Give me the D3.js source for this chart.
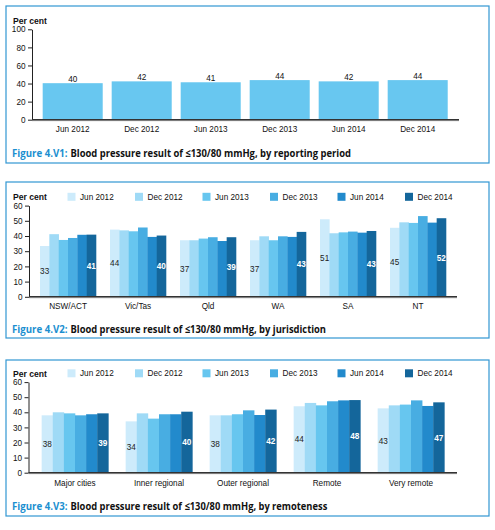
<!DOCTYPE html>
<html><head><meta charset="utf-8">
<script src="https://cdn.jsdelivr.net/npm/d3@7"></script>
<style>body{margin:0;background:#fff}svg{display:block}</style>
</head><body>
<script>
// ---------- data ----------
const periods = ["Jun 2012","Dec 2012","Jun 2013","Dec 2013","Jun 2014","Dec 2014"];
const overallValues = [40.4, 42.4, 41.4, 43.8, 42.4, 43.8];

const jurisdictions = ["NSW/ACT","Vic/Tas","Qld","WA","SA","NT"];
const jurJun2012 = [33.4, 44.2, 37.2, 37.2, 51.0, 45.4];
const jurDec2012 = [41.2, 43.7, 37.2, 39.8, 41.8, 49.0];
const jurJun2013 = [37.4, 43.1, 38.3, 37.2, 42.4, 48.6];
const jurDec2013 = [38.7, 45.6, 39.2, 39.8, 42.9, 53.1];
const jurJun2014 = [40.8, 39.4, 36.7, 39.4, 42.2, 48.8];
const jurDec2014 = [40.9, 40.3, 39.2, 42.7, 43.3, 51.7];

const remoteness = ["Major cities","Inner regional","Outer regional","Remote","Very remote"];
const remJun2012 = [38.0, 34.0, 38.0, 44.0, 42.6];
const remDec2012 = [40.0, 39.3, 38.0, 46.2, 44.6];
const remJun2013 = [39.3, 35.8, 38.7, 44.6, 45.1];
const remDec2013 = [38.0, 38.7, 41.3, 47.3, 47.9];
const remJun2014 = [38.7, 38.7, 38.2, 47.9, 44.2];
const remDec2014 = [39.3, 40.4, 41.8, 48.1, 46.6];

const yTicks1 = [0,20,40,60,80,100];
const yTicks23 = [0,10,20,30,40,50,60];

const seriesColors = ["#cdebfb","#9fdaf6","#67c6ef","#48ade2","#228acc","#14669b"];
const singleColor = "#68c7f0";
const frameColor = "#3197d3";
const figBlue = "#1b8fd0";
const FONT = "'Liberation Sans', Arial, sans-serif";
const CAPFONT = "'Open Sans', 'DejaVu Sans', sans-serif";

const svg = d3.select("body").append("svg").attr("width",495).attr("height",530);
svg.append("rect").attr("width",495).attr("height",530).attr("fill","#fff");

function frame(y0, y1){
  svg.append("rect").attr("x",6).attr("y",y0).attr("width",483).attr("height",y1-y0)
    .attr("fill","none").attr("stroke",frameColor).attr("stroke-width",1.2);
}
function fitText(sel, width){
  const w = sel.node().getComputedTextLength();
  if (Math.abs(w-width) > 1) sel.attr("textLength",width).attr("lengthAdjust","spacingAndGlyphs");
}
function caption(y, fig, rest, endX){
  const a = svg.append("text").attr("x",12).attr("y",y)
    .attr("font-family",CAPFONT).attr("font-size",10.8).attr("font-weight",700)
    .attr("fill",figBlue).text(fig);
  fitText(a, 55.5);
  const b = svg.append("text").attr("x",70.5).attr("y",y)
    .attr("font-family",CAPFONT).attr("font-size",10.8).attr("font-weight",700)
    .attr("fill","#111").text(rest);
  fitText(b, endX-70.5);
}
function perCent(y){
  svg.append("text").attr("x",13).attr("y",y).attr("font-family",FONT)
    .attr("font-size",8.6).attr("font-weight",700).attr("fill","#111").text("Per cent");
}
function yAxis(yScale, x, ticks){
  const g = svg.append("g").attr("transform",`translate(${x},0)`)
    .call(d3.axisLeft(yScale).tickValues(ticks).tickSize(4).tickSizeOuter(0).tickPadding(2.5));
  g.select(".domain").attr("stroke","#222").attr("stroke-width",1);
  g.selectAll(".tick line").attr("stroke","#222");
  g.selectAll(".tick text").attr("font-family",FONT).attr("font-size",8.2).attr("fill","#111");
}
function xAxis(xScale, y0, xStart, xEnd, pad){
  svg.append("line").attr("x1",xStart).attr("x2",xEnd).attr("y1",y0+1).attr("y2",y0+1)
    .attr("stroke","#bbb").attr("stroke-width",1);
  svg.append("line").attr("x1",xStart).attr("x2",xEnd).attr("y1",y0).attr("y2",y0)
    .attr("stroke","#333").attr("stroke-width",1.4);
  const g = svg.append("g").attr("transform",`translate(0,${y0})`)
    .call(d3.axisBottom(xScale).tickSize(0).tickPadding(pad));
  g.select(".domain").remove();
  g.selectAll(".tick text").attr("font-family",FONT).attr("font-size",8.2).attr("fill","#111");
}
function legend(yc){
  periods.forEach((p,i)=>{
    const x = 67.5 + i*67.5;
    svg.append("rect").attr("x",x).attr("y",yc-4).attr("width",8).attr("height",8).attr("fill",seriesColors[i]);
    svg.append("text").attr("x",x+12.5).attr("y",yc+3).attr("font-family",FONT)
      .attr("font-size",8.2).attr("fill","#111").text(p);
  });
}

// ---------- Figure 4.V1 ----------
frame(6,163);
perCent(24);
{
  const y = d3.scaleLinear().domain([0,100]).range([119.7,29.3]);
  const x = d3.scaleBand().domain(periods).range([38.2,452.2]).paddingInner(0.13).paddingOuter(0.065);
  yAxis(y, 32, yTicks1);
  svg.append("g").selectAll("rect").data(overallValues).join("rect")
    .attr("x",(d,i)=>x(periods[i])).attr("width",x.bandwidth())
    .attr("y",d=>y(d)).attr("height",d=>y(0)-y(d)).attr("fill",singleColor);
  svg.append("g").selectAll("text").data(overallValues).join("text")
    .attr("x",(d,i)=>x(periods[i])+x.bandwidth()/2).attr("y",d=>y(d)-1.2)
    .attr("text-anchor","middle").attr("font-family",FONT).attr("font-size",8.2).attr("fill","#111")
    .text(d=>Math.round(d));
  xAxis(x, 119.7, 32, 459, 6);
}
caption(157, "Figure 4.V1:", "Blood pressure result of ≤130/80 mmHg, by reporting period", 351);

// ---------- grouped chart helper ----------
function grouped(cats, series, y0, y60, axisX, padIn, padOut, labPad){
  const y = d3.scaleLinear().domain([0,60]).range([y0,y60]);
  const x0 = d3.scaleBand().domain(cats).range([33,453]).paddingInner(padIn).paddingOuter(padOut);
  const x1 = d3.scaleBand().domain(periods).range([0,x0.bandwidth()]).padding(0);
  yAxis(y, axisX, yTicks23);
  series.forEach((vals,si)=>{
    svg.append("g").selectAll("rect").data(vals).join("rect")
      .attr("x",(d,i)=>x0(cats[i])+x1(periods[si])).attr("width",x1.bandwidth()+0.3)
      .attr("y",d=>y(d)).attr("height",d=>y(0)-y(d)).attr("fill",seriesColors[si]);
  });
  [[0,"#222",400],[5,"#fff",700]].forEach(([si,col,wt])=>{
    svg.append("g").selectAll("text").data(series[si]).join("text")
      .attr("x",(d,i)=>x0(cats[i])+x1(periods[si])+x1.bandwidth()/2)
      .attr("y",d=>y(d/2)+3).attr("text-anchor","middle")
      .attr("font-family",FONT).attr("font-size",8.2).attr("font-weight",wt).attr("fill",col)
      .text(d=>Math.round(d));
  });
  xAxis(x0, y0, axisX, 457, labPad);
}

// ---------- Figure 4.V2 ----------
frame(182,338);
perCent(200);
legend(196.8);
grouped(jurisdictions,[jurJun2012,jurDec2012,jurJun2013,jurDec2013,jurJun2014,jurDec2014],
  296.8, 205.6, 29, 0.2, 0.1, 6.5);
caption(333, "Figure 4.V2:", "Blood pressure result of ≤130/80 mmHg, by jurisdiction", 326);

// ---------- Figure 4.V3 ----------
frame(360,516);
perCent(376.5);
legend(373.3);
grouped(remoteness,[remJun2012,remDec2012,remJun2013,remDec2013,remJun2014,remDec2014],
  472.7, 382.1, 28.5, 0.206, 0.103, 7);
caption(510, "Figure 4.V3:", "Blood pressure result of ≤130/80 mmHg, by remoteness", 327.3);
</script>
</body></html>
